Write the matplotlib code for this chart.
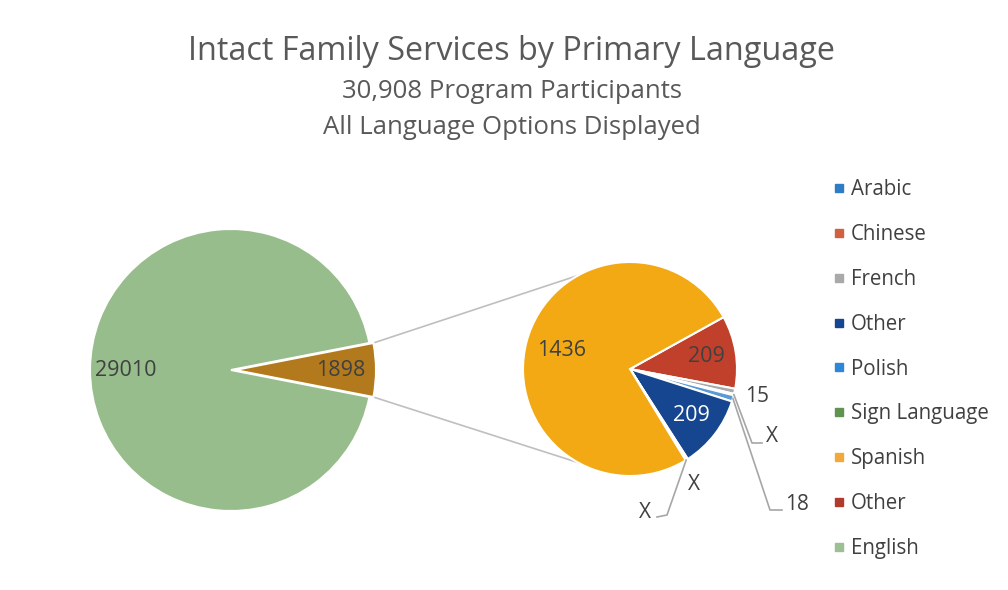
import numpy as np
import matplotlib.pyplot as plt
from matplotlib.lines import Line2D

plt.rcParams['font.family'] = ['Open Sans', 'DejaVu Sans']

# Datos: pastel principal (la porción "Other" se abre en el pastel secundario)
main_values = [1898, 29010]
main_labels = ['1898', '29010']
main_colors = ['#B27A1C', '#97BD8C']

# Pastel secundario, en sentido horario desde la porción roja
sub_values = [209, 15, 4, 18, 209, 4, 3, 1436]
sub_labels = ['209', '15', 'X', '18', '209', 'X', 'X', '1436']
sub_colors = ['#C1402B', '#A9A9A9', '#2F7CC6', '#5B9BD5', '#15468F',
              '#5E9450', '#4A90D0', '#F2A913']

legend_names = ['Arabic', 'Chinese', 'French', 'Other', 'Polish',
                'Sign Language', 'Spanish', 'Other', 'English']
legend_colors = ['#2F7CC6', '#D0603F', '#A9A9A9', '#15468F', '#2F86D6',
                 '#5E9450', '#F0A93A', '#B03A2E', '#9DBF94']

title = 'Intact Family Services by Primary Language'
subtitle1 = '30,908 Program Participants'
subtitle2 = 'All Language Options Displayed'

# Layout (pixeles, y hacia arriba)
W, H = 1008, 590
main_center, main_r = (231, 220), 141
sub_center, sub_r = (630, 221), 107
text_col = '#404040'

fig = plt.figure(figsize=(W / 100, H / 100), dpi=100)
ax = fig.add_axes([0, 0, 1, 1])

frac = main_values[0] / sum(main_values) * 360
main_wedges, _ = ax.pie(main_values, colors=main_colors, radius=main_r,
                        center=main_center, startangle=-frac / 2,
                        explode=[4, 0],
                        wedgeprops=dict(edgecolor='white', linewidth=1.5))
sub_wedges, _ = ax.pie(sub_values, colors=sub_colors, radius=sub_r,
                       center=sub_center, startangle=29, counterclock=False,
                       wedgeprops=dict(edgecolor='white', linewidth=1.5))


def edge_point(w, ang, r=None):
    r = w.r if r is None else r
    t = np.deg2rad(ang)
    return w.center[0] + r * np.cos(t), w.center[1] + r * np.sin(t)


def mid(w):
    return (w.theta1 + w.theta2) / 2


# Etiquetas dentro del pastel principal
for w, lab in zip(main_wedges, main_labels):
    x, y = edge_point(w, mid(w), 0.75 * w.r)
    ax.text(x, y, lab, ha='center', va='center', fontsize=15.5, color=text_col)

# Lineas de conexion entre los dos pasteles
bw = main_wedges[0]
for ang_a, ang_b in [(bw.theta2, 119), (bw.theta1, -119)]:
    xa, ya = edge_point(bw, ang_a)
    xb, yb = sub_center[0] + sub_r * np.cos(np.deg2rad(ang_b)), \
        sub_center[1] + sub_r * np.sin(np.deg2rad(ang_b))
    ax.plot([xa, xb], [ya, yb], color='#BFBFBF', lw=1.2, zorder=0)

# Etiquetas del pastel secundario
inside = {0: '#404040', 4: 'white', 7: '#404040'}
outside = {
    1: dict(text=(757, 194)),
    2: dict(text=(772, 153), line=[(752, 147), (762, 147)]),
    3: dict(text=(797, 86), line=[(770, 80), (782, 80)]),
    5: dict(text=(694, 105)),
    6: dict(text=(645, 78), line=[(667, 75), (657, 73)]),
}
for i, (w, lab) in enumerate(zip(sub_wedges, sub_labels)):
    if i in inside:
        d = 0.66 if i == 7 else 0.72
        x, y = edge_point(w, mid(w), d * w.r)
        ax.text(x, y, lab, ha='center', va='center', fontsize=15.5,
                color=inside[i])
    elif i in outside:
        o = outside[i]
        ax.text(*o['text'], lab, ha='center', va='center', fontsize=15,
                color=text_col)
        if 'line' in o:
            x0, y0 = edge_point(w, mid(w))
            xs = [x0] + [p[0] for p in o['line']]
            ys = [y0] + [p[1] for p in o['line']]
            ax.plot(xs, ys, color='#A6A6A6', lw=1.2)

# Titulos
ax.text(W / 2 + 7, H - 52, title, ha='center', va='center', fontsize=23.3,
        color='#595959')
ax.text(W / 2 + 8, H - 92, subtitle1, ha='center', va='center', fontsize=18.5,
        color='#595959')
ax.text(W / 2 + 8, H - 128, subtitle2, ha='center', va='center', fontsize=18.5,
        color='#595959')

# Leyenda
handles = [Line2D([], [], marker='s', ls='', color=c, markersize=5.5)
           for c in legend_colors]
ax.legend(handles, legend_names, loc='upper left',
          bbox_to_anchor=(823 / W, 1 - 169 / H), frameon=False,
          fontsize=14.8, labelcolor=text_col, labelspacing=1.16,
          handlelength=0.6, handletextpad=0.25, borderpad=0)

ax.set_xlim(0, W)
ax.set_ylim(0, H)
ax.set_aspect('equal')
ax.axis('off')

fig.savefig('out.png', dpi=100, facecolor='white')
